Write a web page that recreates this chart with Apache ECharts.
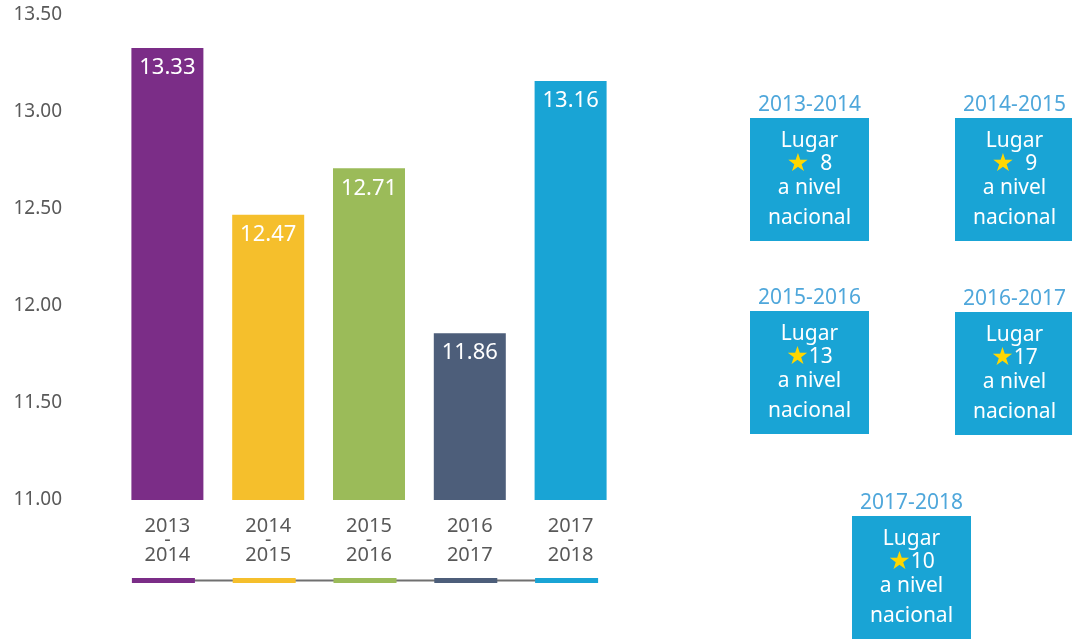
<!DOCTYPE html>
<html>
<head>
<meta charset="utf-8">
<script src="https://cdn.jsdelivr.net/npm/echarts@6/dist/echarts.min.js"></script>
<style>
  html, body { margin: 0; padding: 0; background: #fff; }
  #chart { width: 1072px; height: 640px; }
</style>
</head>
<body>
<div id="chart"></div>
<script>
  // periodos y promedios
  var periods = ['2013-2014', '2014-2015', '2015-2016', '2016-2017', '2017-2018']
  var scores = [13.33, 12.47, 12.71, 11.86, 13.16]
  var barColors = ['#7b2d87', '#f5bf2c', '#9bbb59', '#4d5e7a', '#19a4d5']
  var yTicks = [11.0, 11.5, 12.0, 12.5, 13.0, 13.5]
  // lugar a nivel nacional por periodo
  var ranks = [8, 9, 13, 17, 10]

  var font = 'Noto Sans'

  // cajas de la derecha (solo posiciones de maquetacion)
  var boxPos = [[750, 118], [955, 118], [750, 311], [955, 312], [852, 516]]
  var boxW = 119, boxH = 123

  var boxes = []
  periods.forEach(function (p, i) {
    var x = boxPos[i][0], y = boxPos[i][1]
    var r = ranks[i]
    var rankTxt = r < 10 ? '{s|★}  ' + r : '{s|★}' + r
    boxes.push({
      type: 'group', x: x, y: y,
      children: [
        { type: 'text', x: boxW / 2, y: -13, style: { text: p, fill: '#4fa7db', font: '21px ' + font, align: 'center', verticalAlign: 'middle' } },
        { type: 'rect', shape: { x: 0, y: 0, width: boxW, height: boxH }, style: { fill: '#19a4d5' } },
        { type: 'text', x: boxW / 2, y: 23, style: { text: 'Lugar', fill: '#fff', font: '21px ' + font, align: 'center', verticalAlign: 'middle' } },
        { type: 'text', x: boxW / 2, y: 46, style: { text: rankTxt, fill: '#fff', font: '21px ' + font, align: 'center', verticalAlign: 'middle',
            rich: { s: { fill: '#ffd700', fontSize: 25, fontFamily: 'DejaVu Sans' } } } },
        { type: 'text', x: boxW / 2, y: 70, style: { text: 'a nivel', fill: '#fff', font: '21px ' + font, align: 'center', verticalAlign: 'middle' } },
        { type: 'text', x: boxW / 2, y: 100, style: { text: 'nacional', fill: '#fff', font: '21px ' + font, align: 'center', verticalAlign: 'middle' } }
      ]
    })
  })

  var chart = echarts.init(document.getElementById('chart'))
  chart.setOption({
    animation: false,
    textStyle: { fontFamily: font },
    grid: [
      { left: 117, top: 15, width: 504, height: 485 },
      { left: 113, top: 578, width: 504, height: 5 }   // tira de colores inferior
    ],
    xAxis: [
      {
        gridIndex: 0, type: 'category', data: periods,
        axisLine: { show: false }, axisTick: { show: false },
        axisLabel: {
          margin: 19, color: '#595959', fontSize: 20, lineHeight: 14.5,
          formatter: function (v) { var s = v.split('-'); return s[0] + '\n-\n' + s[1] }
        }
      },
      {
        gridIndex: 1, type: 'category', data: periods,
        axisLine: { show: false }, axisTick: { show: false }, axisLabel: { show: false }
      }
    ],
    yAxis: [
      {
        gridIndex: 0, type: 'value', min: yTicks[0], max: yTicks[yTicks.length - 1], interval: 0.5,
        splitLine: { show: false }, axisLine: { show: false }, axisTick: { show: false },
        axisLabel: { margin: 55, color: '#595959', fontSize: 19, formatter: function (v) { return v.toFixed(2) } }
      },
      { gridIndex: 1, type: 'value', min: 0, max: 1, show: false }
    ],
    series: [
      {
        type: 'bar', xAxisIndex: 0, yAxisIndex: 0, barWidth: 72,
        data: scores.map(function (v, i) { return { value: v, itemStyle: { color: barColors[i] } } }),
        label: {
          show: true, position: 'insideTop', distance: 9, color: '#fff', fontSize: 22,
          formatter: function (p) { return p.value.toFixed(2) }
        }
      },
      {
        type: 'line', xAxisIndex: 1, yAxisIndex: 1, z: 1,
        data: scores.map(function () { return 0.5 }),
        symbol: 'none', lineStyle: { color: '#707070', width: 2 }
      },
      {
        type: 'bar', xAxisIndex: 1, yAxisIndex: 1, barWidth: 63, z: 3,
        data: scores.map(function (v, i) { return { value: 1, itemStyle: { color: barColors[i] } } })
      }
    ],
    graphic: boxes
  })
</script>
</body>
</html>
